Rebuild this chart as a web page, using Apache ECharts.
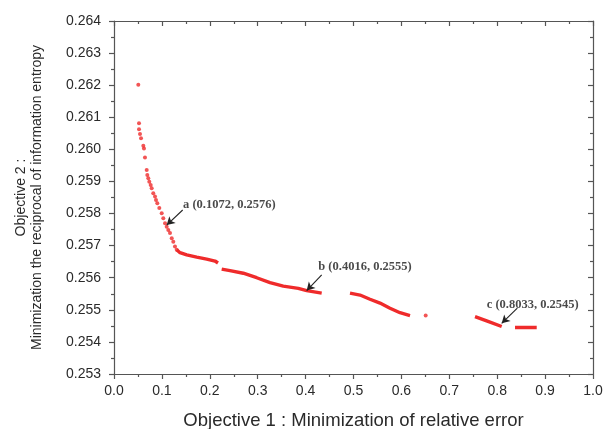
<!DOCTYPE html>
<html>
<head>
<meta charset="utf-8">
<script src="https://cdn.jsdelivr.net/npm/echarts@6/dist/echarts.min.js"></script>
<style>html,body{margin:0;padding:0;background:#fff}#c{width:606px;height:429px}</style>
</head>
<body>
<div id="c"></div>
<script>
// Sparse dots on the steep part of the Pareto front
const steepDots = [
  [0.0507,0.26201],[0.0522,0.26081],[0.0522,0.26063],[0.0543,0.26048],[0.0564,0.26035],
  [0.0612,0.26011],[0.0626,0.26003],[0.0647,0.25975],[0.0683,0.25936],[0.0695,0.25920],
  [0.0716,0.25910],[0.0737,0.25899],[0.0766,0.25889],[0.0787,0.25879],[0.0820,0.25863],
  [0.0856,0.25853],[0.0877,0.25842],[0.0904,0.25832],[0.0946,0.25817],[0.0996,0.25801],
  [0.1029,0.25785],[0.1065,0.25770],[0.1100,0.25759],[0.1134,0.25749],[0.1169,0.25739],
  [0.1205,0.25723],[0.1238,0.25712],[0.1273,0.25697],[0.1309,0.25687]
];
// Dense runs of the front
const run1 = [[0.1309,0.25687],[0.1378,0.25678],[0.1518,0.25671],[0.1727,0.25664],[0.1935,0.25658],[0.2109,0.25652],[0.2171,0.25646]];
const run2 = [[0.2248,0.25627],[0.2422,0.25622],[0.2699,0.25614],[0.2979,0.25600],[0.3257,0.25585],[0.3534,0.25574],[0.3848,0.25567],[0.4023,0.25560],[0.4336,0.25552]];
const run3 = [[0.4927,0.25552],[0.5136,0.25546],[0.5344,0.25533],[0.5553,0.25521],[0.5762,0.25505],[0.5971,0.25491],[0.6180,0.25482]];
const lonePoint = [[0.6507,0.25482]];
const run4 = [[0.7537,0.25479],[0.7808,0.25464],[0.8094,0.25448]];
const run5 = [[0.8372,0.25445],[0.8825,0.25445]];

// Annotations: [textX, textY, label], arrow [from, to]
const noteTexts = [
  [0.1441,0.25827,'a (0.1072, 0.2576)'],
  [0.4265,0.25635,'b (0.4016, 0.2555)'],
  [0.7781,0.25515,'c (0.8033, 0.2545)']
];
const noteArrows = [
  [[0.1434,0.25811],[0.1100,0.25764]],
  [[0.4336,0.25609],[0.4023,0.25560]],
  [[0.8420,0.25505],[0.8094,0.25458]]
];

const xTicks = {min:0, max:1, interval:0.1};
const yTicks = {min:0.253, max:0.264, interval:0.001};

const RED = '#ef2b2b';
const AX = '#555';
const TXT = '#2a2a2a';

const chart = echarts.init(document.getElementById('c'), null, {renderer:'canvas'});

function lineRun(d){
  return {type:'line', data:d, showSymbol:false, symbol:'none', silent:true,
    lineStyle:{color:RED, width:3.4}, animation:false, z:3};
}

const baseX = {
  type:'value', min:xTicks.min, max:xTicks.max, interval:xTicks.interval,
  splitLine:{show:false},
  axisLine:{show:true, onZero:false, lineStyle:{color:AX, width:1.2}},
};
const baseY = {
  type:'value', min:yTicks.min, max:yTicks.max, interval:yTicks.interval,
  splitLine:{show:false},
  axisLine:{show:true, onZero:false, lineStyle:{color:AX, width:1.2}},
};

chart.setOption({
  backgroundColor:'#fff',
  animation:false,
  grid:{left:114, right:13, top:21, bottom:55, outerBoundsMode:'none', containLabel:false},
  xAxis:[
    Object.assign({}, baseX, {
      position:'bottom',
      axisTick:{show:true, inside:false, length:5, lineStyle:{color:AX, width:1.2}},
      minorTick:{show:true, splitNumber:2, length:3, lineStyle:{color:AX, width:1.2}},
      axisLabel:{show:true, margin:10, color:TXT, fontFamily:'Liberation Sans', fontSize:14,
        formatter:v=>v.toFixed(1)},
      name:'Objective 1 : Minimization of relative error',
      nameLocation:'middle', nameGap:37,
      nameTextStyle:{color:TXT, fontFamily:'Liberation Sans', fontSize:18.5}
    }),
    Object.assign({}, baseX, {
      position:'top',
      axisTick:{show:true, inside:true, length:5, lineStyle:{color:AX, width:1.2}},
      minorTick:{show:true, splitNumber:2, length:3, lineStyle:{color:AX, width:1.2}},
      axisLabel:{show:false}
    })
  ],
  yAxis:[
    Object.assign({}, baseY, {
      position:'left',
      axisTick:{show:true, inside:false, length:5, lineStyle:{color:AX, width:1.2}},
      minorTick:{show:true, splitNumber:2, length:3, lineStyle:{color:AX, width:1.2}},
      axisLabel:{show:true, margin:13, color:TXT, fontFamily:'Liberation Sans', fontSize:14,
        formatter:v=>v.toFixed(3)},
      name:'Objective 2 :\nMinimization the reciprocal of information entropy',
      nameLocation:'middle', nameGap:69, nameRotate:90,
      nameTextStyle:{color:TXT, fontFamily:'Liberation Sans', fontSize:14, lineHeight:16, align:'center'}
    }),
    Object.assign({}, baseY, {
      position:'right',
      axisTick:{show:true, inside:true, length:5, lineStyle:{color:AX, width:1.2}},
      minorTick:{show:true, splitNumber:2, length:3, lineStyle:{color:AX, width:1.2}},
      axisLabel:{show:false}
    })
  ],
  series:[
    {type:'scatter', data:steepDots, symbol:'circle', symbolSize:4,
      itemStyle:{color:RED}, silent:true, z:4},
    lineRun(run1), lineRun(run2), lineRun(run3),
    {type:'scatter', data:lonePoint, symbol:'circle', symbolSize:4, itemStyle:{color:RED}, silent:true},
    lineRun(run4), lineRun(run5),
    {type:'scatter', data:noteTexts, symbolSize:0, silent:true, z:6,
      label:{show:true, position:'right', distance:0, formatter:p=>p.value[2],
        color:'#1a1a1a', fontFamily:'Liberation Serif', fontWeight:'bold', fontSize:12.5},
      markLine:{silent:true, symbol:['none','arrow'], symbolSize:[7,8],
        lineStyle:{color:'#222', width:1.1, type:'solid'}, label:{show:false},
        data:noteArrows.map(a=>[{coord:a[0]},{coord:a[1]}])}
    }
  ]
});
</script>
</body>
</html>
